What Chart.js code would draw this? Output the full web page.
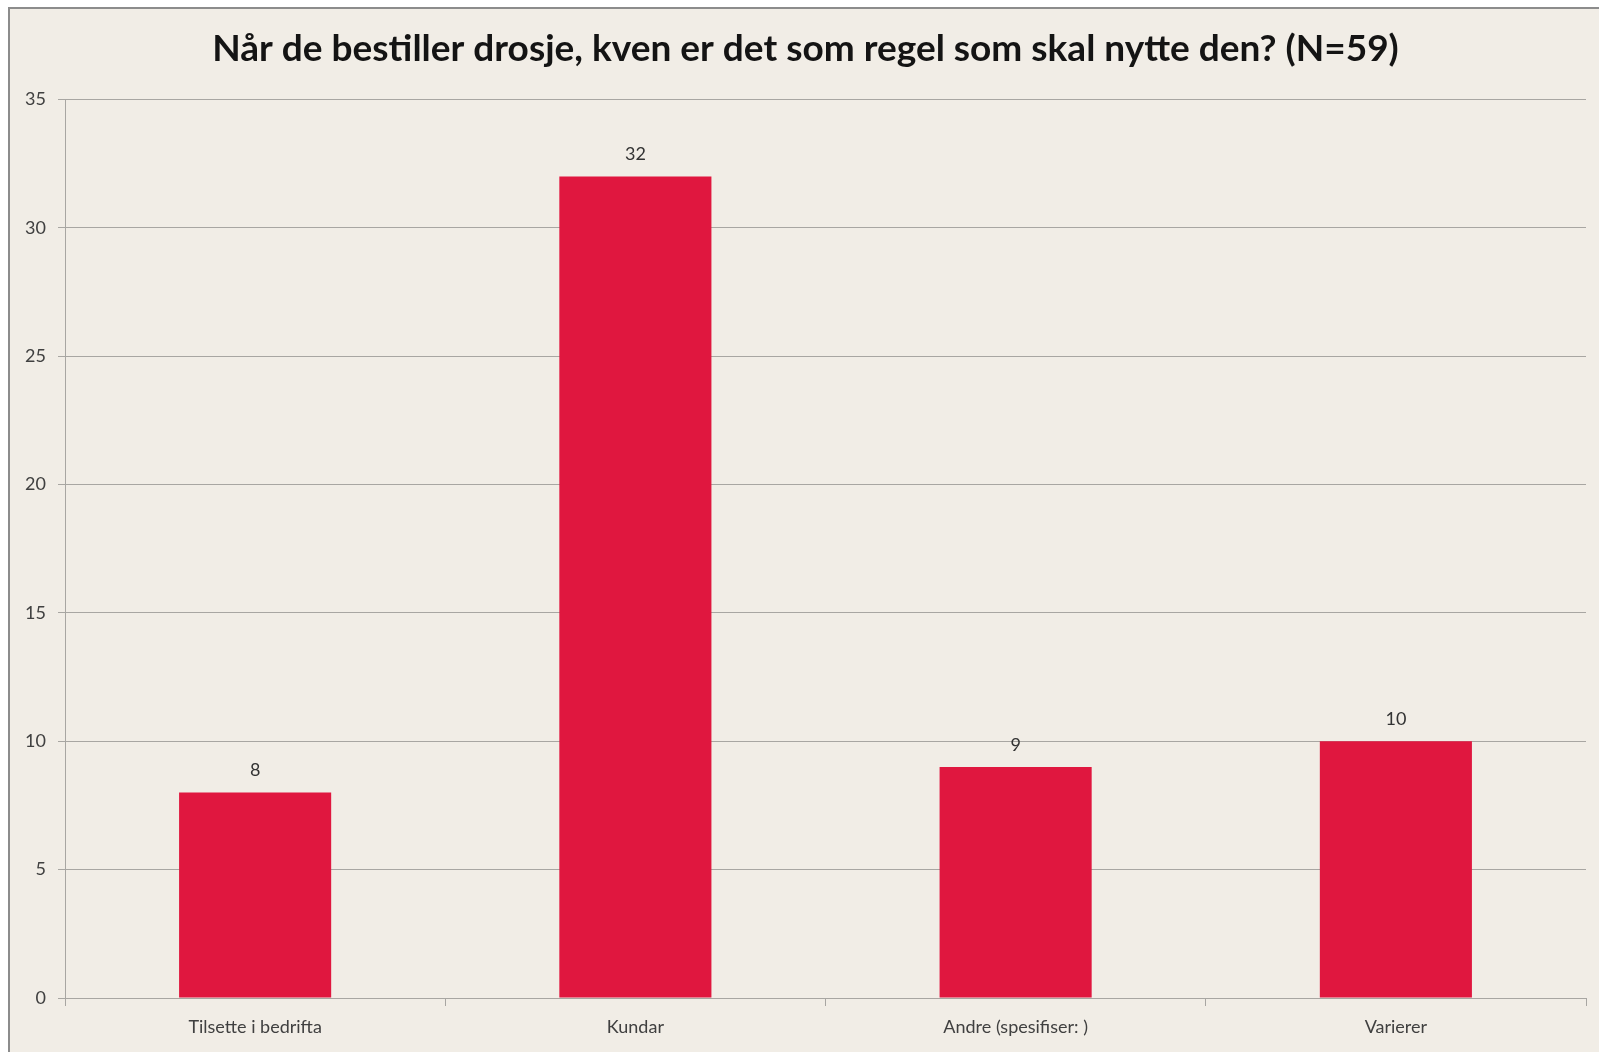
<!DOCTYPE html>
<html>
<head>
<meta charset="utf-8">
<script src="https://cdn.jsdelivr.net/npm/chart.js@4/dist/chart.umd.min.js"></script>
<style>
  html, body { margin: 0; padding: 0; background: #ffffff; }
  #frame {
    position: absolute; left: 8px; top: 7px;
    width: 1589px; height: 1043px;
    border-top: 2px solid #8c8c8c; border-left: 2px solid #8c8c8c;
    background: #f1ede6;
  }
  #chart { display: block; }
</style>
</head>
<body>
<div id="frame"><canvas id="chart" width="1589" height="1043"></canvas></div>
<script>
// chart data
const categories = ['Tilsette i bedrifta', 'Kundar', 'Andre (spesifiser: )', 'Varierer'];
const answers = [8, 32, 9, 10];
const yTicks = [0, 5, 10, 15, 20, 25, 30, 35];
const chartTitle = 'Når de bestiller drosje, kven er det som regel som skal nytte den? (N=59)';

const fontName = 'Lato, "Open Sans", sans-serif';
const gridColor = '#a8a6a2';
const textColor = '#404040';

// draws the value above every bar (no datalabels plugin available)
const valueLabels = {
    id: 'valueLabels',
    afterDatasetsDraw(chart) {
        const ctx = chart.ctx;
        const meta = chart.getDatasetMeta(0);
        ctx.save();
        ctx.font = '18px ' + fontName;
        ctx.fillStyle = '#333333';
        ctx.textAlign = 'center';
        ctx.textBaseline = 'middle';
        meta.data.forEach(function(bar, i) {
            ctx.fillText(String(answers[i]), bar.x, bar.y - 22);
        });
        ctx.restore();
    }
};

new Chart(document.getElementById('chart'), {
    type: 'bar',
    data: {
        labels: categories,
        datasets: [{
            data: answers,
            backgroundColor: '#e0173f',
            borderWidth: 0,
            categoryPercentage: 1,
            barPercentage: 0.4
        }]
    },
    options: {
        responsive: false,
        animation: false,
        // a bit of left padding nudges the title centre right, y axis narrowed to match
        layout: { padding: { left: 15, right: 13, top: 0, bottom: 0 } },
        plugins: {
            legend: { display: false },
            tooltip: { enabled: false },
            title: {
                display: true,
                text: chartTitle,
                color: '#141414',
                font: { family: fontName, size: 37, weight: 'bold' },
                padding: { top: 18, bottom: 28 }
            }
        },
        scales: {
            x: {
                grid: {
                    offset: true,
                    drawOnChartArea: false,
                    drawTicks: true,
                    tickLength: 8,
                    color: gridColor
                },
                border: { color: gridColor, width: 1 },
                ticks: {
                    color: textColor,
                    font: { family: fontName, size: 18 },
                    padding: 10,
                    maxRotation: 0
                },
                afterFit(scale) { scale.height = 54; }
            },
            y: {
                min: 0,
                max: 35,
                afterBuildTicks(scale) {
                    scale.ticks = yTicks.map(v => ({ value: v }));
                },
                grid: {
                    color: gridColor,
                    tickLength: 7,
                    drawTicks: true
                },
                border: { color: gridColor, width: 1 },
                ticks: {
                    color: textColor,
                    font: { family: fontName, size: 18 },
                    padding: 12
                },
                afterFit(scale) { scale.width = 40; }
            }
        }
    },
    plugins: [valueLabels]
});
</script>
</body>
</html>
